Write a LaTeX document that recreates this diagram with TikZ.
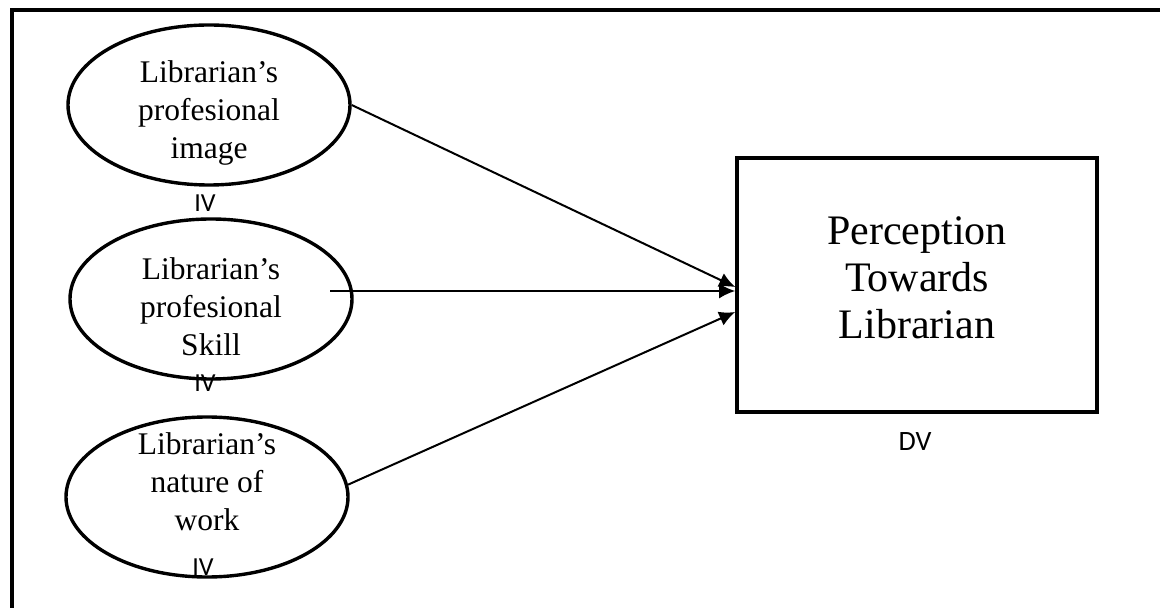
\documentclass[tikz,border=0pt]{standalone}
\usepackage{fontspec}
\setmainfont{Liberation Serif}
\newfontfamily\labelfont{Carlito}
\usetikzlibrary{arrows.meta,shapes.geometric}

\begin{document}
\begin{tikzpicture}[x=0.5pt,y=-0.5pt]

	\tikzstyle iv ellipse=[draw, ellipse, line width=1.7pt, minimum width=141pt, minimum height=80pt, inner sep=0pt];
	\tikzstyle iv text=[align=center, font=\fontsize{15.75}{19}\selectfont];
	\tikzstyle var label=[font=\labelfont\fontsize{13}{15}\selectfont, inner sep=0pt];
	\tikzstyle effect lines=[line width=1pt, -{Latex[length=8pt,width=7.5pt]}];

	\clip (0,0) rectangle (1160,608);
	\draw[line width=2pt] (12,10) rectangle (1220,660);

	% independent variables
	\node[iv ellipse] (img) at (209,105) {};
	\node[iv text] (imgtext) at (209,113) {Librarian’s\\profesional\\image};
	\node[var label] (imgiv) at (205,203) {IV};

	\node[iv ellipse] (skill) at (211,299) {};
	\node[iv text] (skilltext) at (211,307) {Librarian’s\\profesional\\Skill};
	\node[var label] (skilliv) at (205,383) {IV};

	\node[iv ellipse] (work) at (207,497) {};
	\node[iv text] (worktext) at (207,482) {Librarian’s\\nature of\\work};
	\node[var label] (workiv) at (203,567) {IV};

	% dependent variable
	\node[draw, line width=1.8pt, minimum width=180pt, minimum height=127pt, inner sep=0pt] (perc) at (917,285) {};
	\node[align=center, font=\fontsize{21}{23.5}\selectfont] (perctext) at (917,278) {Perception\\Towards\\Librarian};
	\node[var label, font=\labelfont\fontsize{14}{16}\selectfont] (percdv) at (915,442) {DV};

	\coordinate (skillstart) at (330,291);
	\draw[effect lines] (img.east) -- ([yshift=-1pt]perc.west);
	\draw[effect lines] (skillstart) -- (skillstart -| perc.west);
	\draw[effect lines] (work.5) -- ([yshift=-13.5pt]perc.west);

\end{tikzpicture}
\end{document}
